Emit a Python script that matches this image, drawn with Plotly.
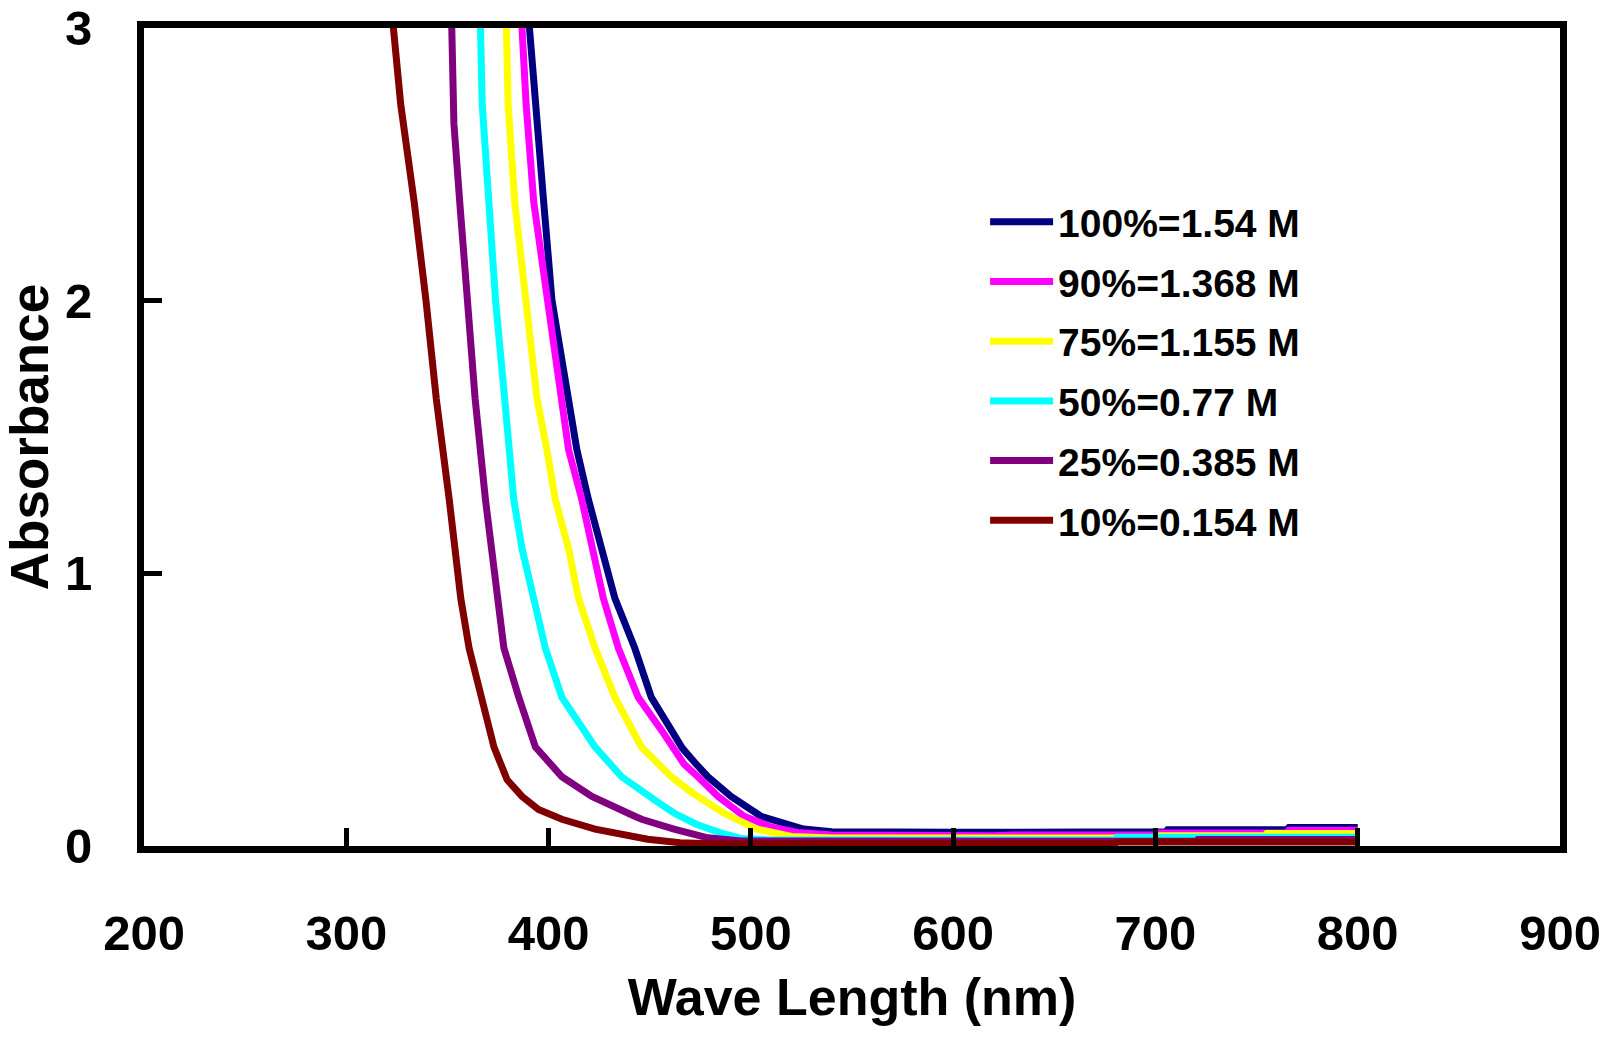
import plotly.graph_objects as go

# ---- data ----
labels = ["100%=1.54 M", "90%=1.368 M", "75%=1.155 M", "50%=0.77 M", "25%=0.385 M", "10%=0.154 M"]
colors = ["#000080", "#FF00FF", "#FFFF00", "#00FFFF", "#800080", "#800000"]

wl_100 = [390.0, 390.5, 393.5, 397.6, 401.7, 408.0, 409.9, 414.0, 419.7, 426.3, 432.8, 442.6, 450.8, 460.7, 466.0, 473.0, 478.7, 490.2, 505.0, 526.0, 540.0, 600.0, 630.0, 705.0, 706.0, 765.0, 766.0, 800.0]
ab_100 = [3.05, 3.0, 2.72, 2.36, 2.0, 1.71, 1.64, 1.453, 1.271, 1.09, 0.908, 0.726, 0.545, 0.425, 0.36, 0.30, 0.254, 0.182, 0.109, 0.062, 0.052, 0.050, 0.050, 0.052, 0.060, 0.060, 0.068, 0.068]

wl_90 = [386.5, 386.9, 388.9, 392.7, 399.2, 405.8, 409.9, 416.4, 421.4, 427.1, 434.5, 444.3, 455.8, 461.5, 467.0, 473.8, 483.7, 496.6, 510.0, 523.0, 540.0, 620.0, 630.0, 700.0, 701.0, 765.0, 766.0, 800.0]
ab_90 = [3.05, 3.0, 2.72, 2.36, 2.0, 1.64, 1.453, 1.271, 1.09, 0.908, 0.726, 0.545, 0.425, 0.363, 0.30, 0.254, 0.182, 0.109, 0.070, 0.050, 0.040, 0.038, 0.040, 0.040, 0.048, 0.048, 0.058, 0.058]

wl_75 = [379.0, 379.2, 380.0, 383.3, 388.5, 394.3, 399.2, 403.3, 409.9, 414.8, 423.0, 432.8, 445.9, 460.7, 471.0, 486.8, 503.0, 520.0, 540.0, 700.0, 701.0, 754.0, 755.0, 800.0]
ab_75 = [3.05, 3.0, 2.72, 2.36, 2.0, 1.64, 1.453, 1.271, 1.09, 0.908, 0.726, 0.545, 0.363, 0.254, 0.195, 0.12, 0.062, 0.035, 0.029, 0.029, 0.038, 0.038, 0.046, 0.046]

wl_50 = [366.2, 366.4, 367.2, 370.5, 373.8, 378.3, 382.8, 386.9, 392.7, 398.4, 406.6, 423.0, 436.1, 445.7, 452.5, 462.2, 473.0, 485.0, 495.0, 510.0, 680.0, 681.0, 800.0]
ab_50 = [3.05, 3.0, 2.72, 2.36, 2.0, 1.64, 1.27, 1.09, 0.908, 0.726, 0.545, 0.363, 0.254, 0.208, 0.168, 0.12, 0.08, 0.048, 0.028, 0.022, 0.022, 0.032, 0.032]

wl_25 = [352.0, 352.1, 352.8, 353.2, 356.1, 359.9, 363.7, 368.8, 374.6, 377.9, 385.3, 393.5, 406.6, 421.4, 442.6, 446.0, 462.0, 468.9, 478.7, 495.0, 720.0, 721.0, 800.0]
ab_25 = [3.05, 3.0, 2.72, 2.65, 2.36, 2.0, 1.64, 1.27, 0.908, 0.726, 0.545, 0.363, 0.254, 0.182, 0.109, 0.098, 0.062, 0.050, 0.030, 0.018, 0.017, 0.024, 0.024]

wl_10 = [323.0, 323.3, 326.9, 333.6, 339.4, 344.5, 350.9, 356.6, 360.7, 366.4, 373.0, 379.5, 386.9, 395.0, 406.6, 423.0, 449.0, 465.0, 480.0, 680.0, 681.0, 800.0]
ab_10 = [3.05, 3.0, 2.72, 2.36, 2.0, 1.64, 1.27, 0.908, 0.726, 0.545, 0.363, 0.243, 0.182, 0.134, 0.098, 0.062, 0.025, 0.012, 0.008, 0.008, 0.015, 0.015]

series_x = [wl_100, wl_90, wl_75, wl_50, wl_25, wl_10]
series_y = [ab_100, ab_90, ab_75, ab_50, ab_25, ab_10]

x_ticks = [200, 300, 400, 500, 600, 700, 800, 900]
y_ticks = [0, 1, 2, 3]

FONT = "Liberation Sans, Arial, Helvetica, sans-serif"

fig = go.Figure()
for i, (xs, ys, name, col) in enumerate(zip(series_x, series_y, labels, colors)):
    fig.add_trace(go.Scatter(
        x=xs, y=ys, mode="lines", name=name, legendgroup=f"g{i}",
        line=dict(color=col, width=7),
    ))

fig.update_layout(
    width=1623, height=1039,
    margin=dict(l=144, r=63, t=28, b=193, autoexpand=False),
    paper_bgcolor="white", plot_bgcolor="white",
    font=dict(family=FONT, color="black"),
    showlegend=True,
    legend=dict(
        x=0.594, y=0.802, xanchor="left", yanchor="top",
        font=dict(family=FONT, size=39, color="black", weight="bold"),
        bgcolor="rgba(0,0,0,0)", borderwidth=0,
        tracegroupgap=6, itemwidth=63,
    ),
)

fig.update_xaxes(
    range=[200, 900], tickvals=x_ticks, ticktext=[str(v) for v in x_ticks],
    showgrid=False, zeroline=False, automargin=False,
    showline=True, linecolor="black", linewidth=7, mirror=True,
    ticks="inside", ticklen=18, tickwidth=5, tickcolor="black",
    ticklabelstandoff=38,
    tickfont=dict(family=FONT, size=49, color="black", weight="bold"),
    title=dict(text="Wave Length (nm)", standoff=22,
               font=dict(family=FONT, size=52, color="black", weight="bold")),
)
fig.update_yaxes(
    range=[0, 3], tickvals=y_ticks, ticktext=[str(v) for v in y_ticks],
    showgrid=False, zeroline=False, automargin=False,
    showline=True, linecolor="black", linewidth=7, mirror=True,
    ticks="inside", ticklen=18, tickwidth=5, tickcolor="black",
    ticklabelstandoff=35,
    tickfont=dict(family=FONT, size=49, color="black", weight="bold"),
    title=dict(text="Absorbance", standoff=9,
               font=dict(family=FONT, size=53, color="black", weight="bold")),
)

fig.write_html("out.html")
